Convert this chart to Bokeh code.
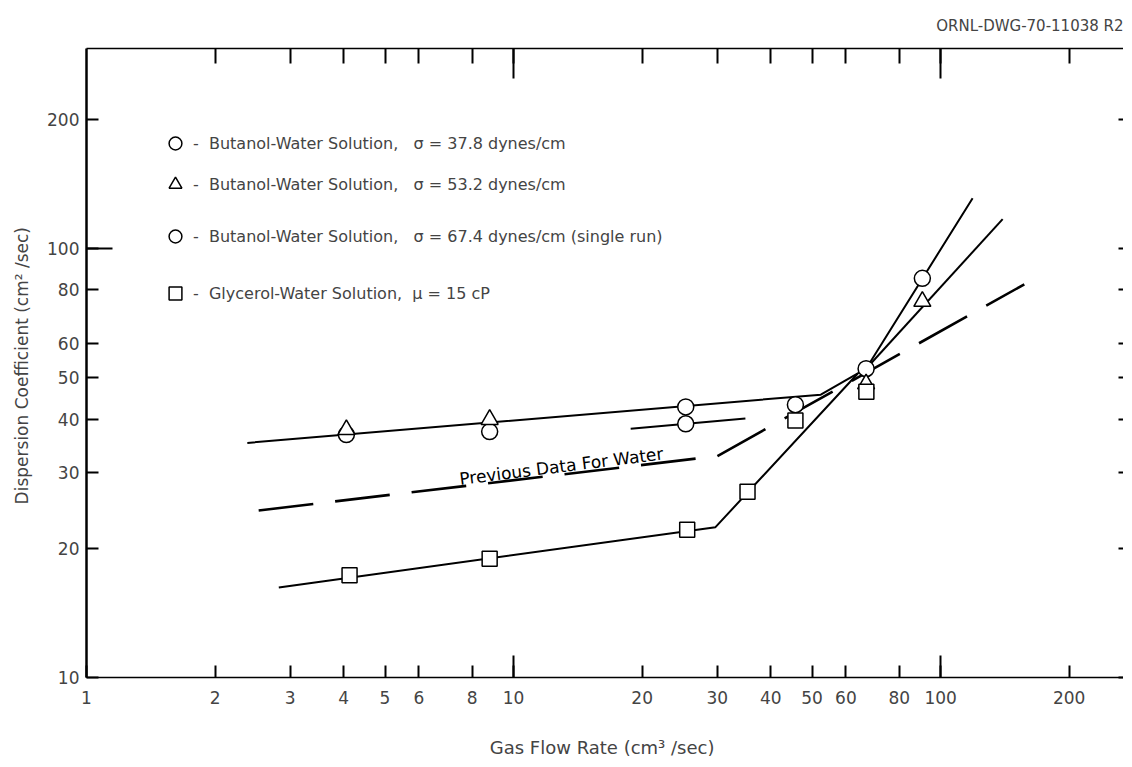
from bokeh.plotting import figure
from bokeh.models import (FixedTicker, LogAxis, NumeralTickFormatter, Legend,
                          LegendItem, Label, Range1d, CustomJSTickFormatter)
from bokeh.embed import file_html
from bokeh.resources import INLINE

FONT = "DejaVu Sans"

# ---- axes ticks ----
X_TICKS = [1, 2, 3, 4, 5, 6, 8, 10, 20, 30, 40, 50, 60, 80, 100, 200]
Y_TICKS = [10, 20, 30, 40, 50, 60, 80, 100, 200]
X_LONG = [10, 100]
Y_LONG = [100]

# ---- measured points ----
b378_x = [4.06, 8.79, 25.3, 45.7, 66.9, 90.6]
b378_y = [36.8, 37.4, 42.7, 43.2, 52.4, 85.1]
b532_x = [4.06, 8.79, 66.9, 90.6]
b532_y = [37.8, 39.9, 48.3, 75.2]
b674_x = [25.3]
b674_y = [39.0]
gly_x = [4.13, 8.79, 25.5, 35.3, 45.7, 67.0]
gly_y = [17.3, 18.9, 22.1, 27.1, 39.7, 46.3]

# ---- drawn curves ----
fit_b378_x = [2.38, 52.4, 66.9, 118.8]
fit_b378_y = [35.2, 45.6, 52.4, 130.8]
fit_b532_x = [66.9, 139.7]
fit_b532_y = [52.4, 116.9]
fit_b674_x = [18.8, 34.9]
fit_b674_y = [38.0, 40.1]
fit_gly_x = [2.82, 29.7, 63.9]
fit_gly_y = [16.2, 22.4, 51.0]
water_x = [2.53, 30.0, 157.0]
water_y = [24.5, 32.8, 82.4]

LEGEND_LABELS = [
    "-  Butanol-Water Solution,   σ = 37.8 dynes/cm",
    "-  Butanol-Water Solution,   σ = 53.2 dynes/cm",
    "-  Butanol-Water Solution,   σ = 67.4 dynes/cm (single run)",
    "-  Glycerol-Water Solution,  μ = 15 cP",
]

p = figure(x_axis_type="log", y_axis_type="log",
           x_range=Range1d(1, 268), y_range=Range1d(10, 292),
           frame_width=1037, frame_height=629,
           min_border_left=86, min_border_right=0, min_border_top=47,
           min_border_bottom=88,
           output_backend="svg", toolbar_location=None,
           title="ORNL-DWG-70-11038 R2")
p.outline_line_color = None
p.xgrid.visible = False
p.ygrid.visible = False
p.background_fill_color = "white"
p.title.align = "right"
p.title.text_font = FONT
p.title.text_font_size = "15px"
p.title.text_font_style = "normal"
p.title.standoff = 28

# bottom axis
xa = p.xaxis[0]
xa.ticker = FixedTicker(ticks=X_TICKS, minor_ticks=X_LONG)
xa.formatter = NumeralTickFormatter(format="0")
xa.major_tick_in = 12
xa.major_tick_out = 0
xa.minor_tick_in = 22
xa.minor_tick_out = 0
xa.major_tick_line_width = 2
xa.minor_tick_line_width = 2
xa.axis_line_width = 1.3
xa.major_label_text_font = FONT
xa.major_label_text_font_size = "17px"
xa.major_label_standoff = 13
xa.axis_label = "Gas Flow Rate  (cm³ /sec)"
xa.axis_label_text_font = FONT
xa.axis_label_text_font_size = "18px"
xa.axis_label_text_font_style = "normal"
xa.axis_label_standoff = 30

# left axis
ya = p.yaxis[0]
ya.ticker = FixedTicker(ticks=Y_TICKS, minor_ticks=Y_LONG)
ya.formatter = NumeralTickFormatter(format="0")
ya.major_tick_in = 12
ya.major_tick_out = 0
ya.minor_tick_in = 26
ya.minor_tick_out = 0
ya.major_tick_line_width = 2
ya.minor_tick_line_width = 2
ya.axis_line_width = 2.5
ya.major_label_text_font = FONT
ya.major_label_text_font_size = "17px"
ya.major_label_standoff = 7
ya.axis_label = "Dispersion Coefficient  (cm² /sec)"
ya.axis_label_text_font = FONT
ya.axis_label_text_font_size = "17px"
ya.axis_label_text_font_style = "normal"
ya.axis_label_standoff = 12

blank = CustomJSTickFormatter(code="return ''")

# top axis (ticks only)
top = LogAxis(ticker=FixedTicker(ticks=X_TICKS[1:], minor_ticks=X_LONG),
              formatter=blank, major_label_standoff=0,
              major_tick_in=15, major_tick_out=0, minor_tick_in=30, minor_tick_out=0,
              major_tick_line_width=2, minor_tick_line_width=2, axis_line_width=1.3)
p.add_layout(top, "above")

# right axis (small ticks only)
right = LogAxis(ticker=FixedTicker(ticks=Y_TICKS), formatter=blank,
                major_label_standoff=0,
                major_tick_in=5, major_tick_out=0, minor_tick_in=0, minor_tick_out=0,
                major_tick_line_width=2, axis_line_color=None)
p.add_layout(right, "right")

# curves
p.line(fit_b378_x, fit_b378_y, line_color="black", line_width=2)
p.line(fit_b532_x, fit_b532_y, line_color="black", line_width=2)
p.line(fit_b674_x, fit_b674_y, line_color="black", line_width=2)
p.line(fit_gly_x, fit_gly_y, line_color="black", line_width=2)
p.line(water_x, water_y, line_color="black", line_width=2.6, line_dash="55 22")

# markers
r1 = p.scatter(b378_x, b378_y, marker="circle", size=16, fill_color="white",
               line_color="black", line_width=1.5)
r2 = p.scatter(b532_x, b532_y, marker="triangle", size=17, fill_color="white",
               line_color="black", line_width=1.5)
r3 = p.scatter(b674_x, b674_y, marker="circle", size=16, fill_color="white",
               line_color="black", line_width=1.5)
r4 = p.scatter(gly_x, gly_y, marker="square", size=15, fill_color="white",
               line_color="black", line_width=1.5)

# legend rows (individually placed)
LEGEND_VY = [518, 477, 425, 368]
for rend, lab, vy in zip([r1, r2, r3, r4], LEGEND_LABELS, LEGEND_VY):
    leg = Legend(items=[LegendItem(label=lab, renderers=[rend])],
                 location=(73, vy), border_line_color=None,
                 background_fill_alpha=0, padding=0, margin=0, spacing=0,
                 glyph_width=32, glyph_height=32, label_height=32,
                 label_standoff=2, label_text_font=FONT,
                 label_text_font_size="16px")
    p.add_layout(leg)

p.add_layout(Label(x=7.47, y=29.0, text="Previous Data For Water", angle=0.125,
                   text_font=FONT, text_font_size="17px", text_color="black",
                   text_baseline="alphabetic"))

open("out.html", "w").write(file_html(p, INLINE))
